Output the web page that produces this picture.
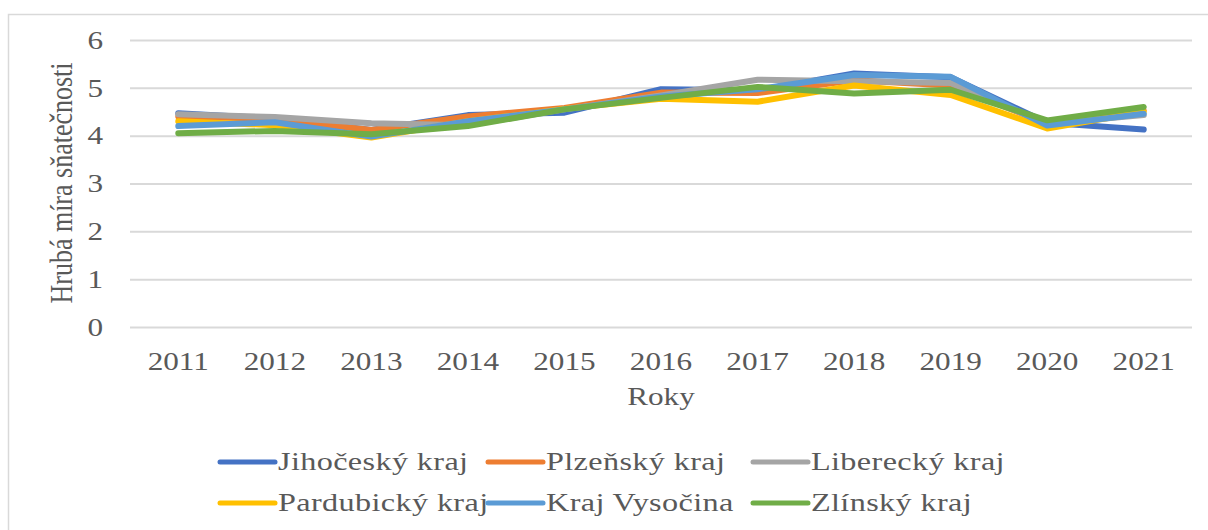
<!DOCTYPE html>
<html>
<head>
<meta charset="utf-8">
<script src="https://cdn.jsdelivr.net/npm/d3@7"></script>
<style>
  body { margin: 0; background: #fff; }
  svg text { font-family: "Liberation Serif", "DejaVu Serif", "Times New Roman", serif !important; fill: #595959; }
</style>
</head>
<body>
<div id="chart"></div>
<script>
const years = ['2011', '2012', '2013', '2014', '2015', '2016', '2017', '2018', '2019', '2020', '2021']
const regions = ['Jihočeský kraj', 'Plzeňský kraj', 'Liberecký kraj', 'Pardubický kraj', 'Kraj Vysočina', 'Zlínský kraj']
const colors = ['#4472C4', '#ED7D31', '#A5A5A5', '#FFC000', '#5B9BD5', '#70AD47']

const jihocesky = [4.47, 4.36, 4.12, 4.43, 4.48, 4.97, 4.95, 5.30, 5.22, 4.27, 4.13]
const plzensky = [4.40, 4.35, 4.12, 4.40, 4.58, 4.90, 4.89, 5.16, 5.05, 4.25, 4.53]
const liberecky = [4.45, 4.39, 4.26, 4.22, 4.55, 4.84, 5.17, 5.14, 5.10, 4.25, 4.43]
const pardubicky = [4.30, 4.22, 3.96, 4.30, 4.56, 4.77, 4.71, 5.05, 4.85, 4.15, 4.50]
const vysocina = [4.20, 4.28, 3.98, 4.30, 4.55, 4.82, 4.97, 5.27, 5.23, 4.21, 4.46]
const zlinsky = [4.05, 4.10, 4.03, 4.20, 4.55, 4.79, 5.02, 4.88, 4.96, 4.32, 4.60]

const yTicks = [0, 1, 2, 3, 4, 5, 6]

const seriesValues = [jihocesky, plzensky, liberecky, pardubicky, vysocina, zlinsky]

const W = 1208
const H = 530
const margin = { top: 40, left: 130, right: 16, bottom: 203 }
const width = W - margin.left - margin.right
const height = H - margin.top - margin.bottom

// the original is a bit wider than tall, so text gets a horizontal stretch
const stretch = 1.2

const root = d3
  .select('#chart')
  .append('svg')
  .attr('width', W)
  .attr('height', H)

// outer chart border
root
  .append('rect')
  .attr('x', 8.5)
  .attr('y', 14.5)
  .attr('width', W + 10)
  .attr('height', H + 10)
  .attr('fill', 'none')
  .attr('stroke', '#d9d9d9')
  .attr('stroke-width', 1.5)

const svg = root
  .append('g')
  .attr('transform', 'translate(' + margin.left + ',' + margin.top + ')')

const xScale = d3
  .scaleBand()
  .domain(years)
  .range([0, width])

const yScale = d3
  .scaleLinear()
  .domain([0, 6])
  .range([height, 0])

// gridlines
const yAxis = d3
  .axisLeft(yScale)
  .tickValues(yTicks)
  .tickFormat(d3.format('d'))
  .tickSize(-width)
  .tickPadding(0)

svg
  .append('g')
  .attr('class', 'y-axis')
  .call(yAxis)
  .call(g => g.select('.domain').remove())
  .call(g => g.selectAll('line').attr('stroke', '#d9d9d9').attr('stroke-width', 2))
  .call(g =>
    g
      .selectAll('text')
      .attr('x', 0)
      .attr('font-size', 26)
      .attr('transform', 'translate(-27,0) scale(' + stretch + ',1)')
  )

const xAxis = d3
  .axisBottom(xScale)
  .tickSize(0)
  .tickPadding(25)

svg
  .append('g')
  .attr('class', 'x-axis')
  .attr('transform', 'translate(0,' + height + ')')
  .call(xAxis)
  .call(g => g.select('.domain').remove())
  .call(g =>
    g
      .selectAll('text')
      .attr('font-size', 26)
      .attr('transform', 'scale(' + stretch + ',1)')
  )

// lines
const line = d3
  .line()
  .x((d, i) => xScale(years[i]) + xScale.bandwidth() / 2)
  .y(d => yScale(d))

svg
  .selectAll('.series')
  .data(seriesValues)
  .enter()
  .append('path')
  .attr('class', 'series')
  .attr('d', line)
  .attr('fill', 'none')
  .attr('stroke', (d, i) => colors[i])
  .attr('stroke-width', 6)
  .attr('stroke-linejoin', 'round')
  .attr('stroke-linecap', 'round')

// axis titles
root
  .append('text')
  .attr('transform', 'translate(661,405) scale(' + stretch + ',1)')
  .attr('text-anchor', 'middle')
  .attr('font-size', 26)
  .text('Roky')

root
  .append('text')
  .attr('transform', 'translate(72,183) rotate(-90) scale(1,' + stretch + ')')
  .attr('text-anchor', 'middle')
  .attr('font-size', 26)
  .text('Hrubá míra sňatečnosti')

// legend
const legendX = [218, 486, 751]
const legendY = [462, 503]

const legend = root
  .selectAll('.legend')
  .data(regions)
  .enter()
  .append('g')
  .attr('class', 'legend')
  .attr('transform', (d, i) => 'translate(' + legendX[i % 3] + ',' + legendY[Math.floor(i / 3)] + ')')

legend
  .append('line')
  .attr('x1', 2)
  .attr('x2', 57)
  .attr('stroke', (d, i) => colors[i])
  .attr('stroke-width', 5)
  .attr('stroke-linecap', 'round')

legend
  .append('text')
  .attr('transform', 'translate(60,8) scale(1.24,1)')
  .attr('font-size', 26)
  .attr('letter-spacing', 0.3)
  .text(d => d)
</script>
</body>
</html>
